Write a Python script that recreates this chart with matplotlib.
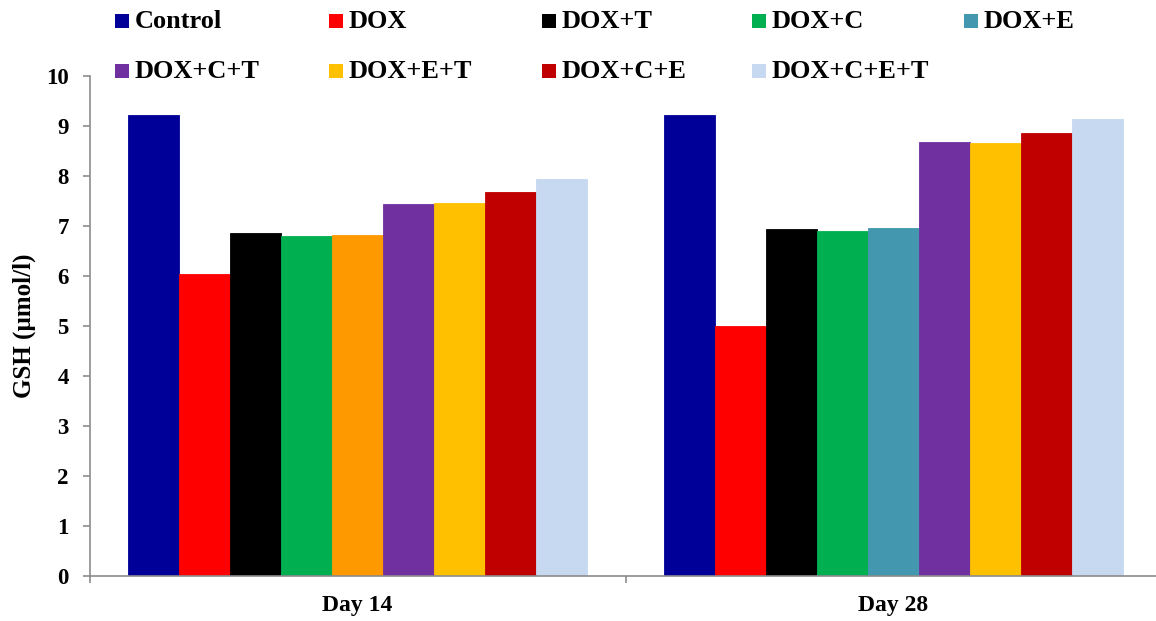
import numpy as np
import matplotlib
matplotlib.use("Agg")
import matplotlib.pyplot as plt
from matplotlib.patches import Rectangle

plt.rcParams["font.family"] = ["Liberation Serif", "DejaVu Serif"]
plt.rcParams["font.weight"] = "bold"
plt.rcParams["axes.labelweight"] = "bold"

# data (GSH, umol/l)
days = ["Day 14", "Day 28"]
groups = ["Control", "DOX", "DOX+T", "DOX+C", "DOX+E",
          "DOX+C+T", "DOX+E+T", "DOX+C+E", "DOX+C+E+T"]
gsh_day14 = [9.21, 6.05, 6.86, 6.81, 6.82, 7.45, 7.46, 7.68, 7.95]
gsh_day28 = [9.21, 5.01, 6.94, 6.91, 6.96, 8.68, 8.66, 8.86, 9.14]
yticks = list(range(0, 11))

colors = ["#000099", "#FF0000", "#000000", "#00B050", "#4397AE",
          "#7030A0", "#FFC000", "#C00000", "#C6D9F1"]
# the DOX+E bar on day 14 is drawn orange in the original
day14_dox_e_color = "#FF9900"

W, H = 1156, 621
fig = plt.figure(figsize=(W / 100, H / 100), dpi=100)
ax = fig.add_axes([89.5 / W, 45 / H, 1072 / W, 500 / H])

x = np.arange(len(days))
width = 0.857 / len(groups)
for i, g in enumerate(groups):
    bar_colors = [colors[i], colors[i]]
    if g == "DOX+E":
        bar_colors[0] = day14_dox_e_color
    ax.bar(x + (i - 4) * width, [gsh_day14[i], gsh_day28[i]], width,
           color=bar_colors, edgecolor=bar_colors, linewidth=0.6)

ax.set_xlim(-0.5, 1.5)
ax.set_ylim(0, 10)
ax.set_yticks(yticks)
ax.tick_params(axis="y", labelsize=16.5, length=5, width=1.2,
               color="#8C8C8C", pad=10)

# category boundaries as major ticks, names as minor ticks
ax.set_xticks([-0.5, 0.5, 1.5])
ax.set_xticklabels([])
ax.set_xticks(x, minor=True)
ax.set_xticklabels(days, minor=True)
ax.tick_params(axis="x", which="major", length=5, width=1.2, color="#8C8C8C")
ax.tick_params(axis="x", which="minor", length=0, labelsize=17, pad=14)

for side in ["top", "right"]:
    ax.spines[side].set_visible(False)
for side in ["left", "bottom"]:
    ax.spines[side].set_color("#8C8C8C")
    ax.spines[side].set_linewidth(1.2)

ax.set_ylabel("GSH (\u00b5mol/l)", fontsize=18, fontweight="bold")
ax.yaxis.set_label_coords(-53 / 1072, 0.5)

# legend laid out on an even grid like the original (5 columns, 2 rows)
col_left = [114.5, 329, 542, 752, 964]
row_mid = [21, 71]
box = 14
for i, g in enumerate(groups):
    r, c = divmod(i, 5)
    x0 = col_left[c]
    y0 = row_mid[r]
    fig.add_artist(Rectangle((x0 / W, 1 - (y0 + box / 2) / H), box / W, box / H,
                             transform=fig.transFigure, color=colors[i], lw=0))
    fig.text((x0 + 20) / W, 1 - y0 / H, g, fontsize=19, va="center", ha="left")

fig.savefig("out.png", dpi=100)
